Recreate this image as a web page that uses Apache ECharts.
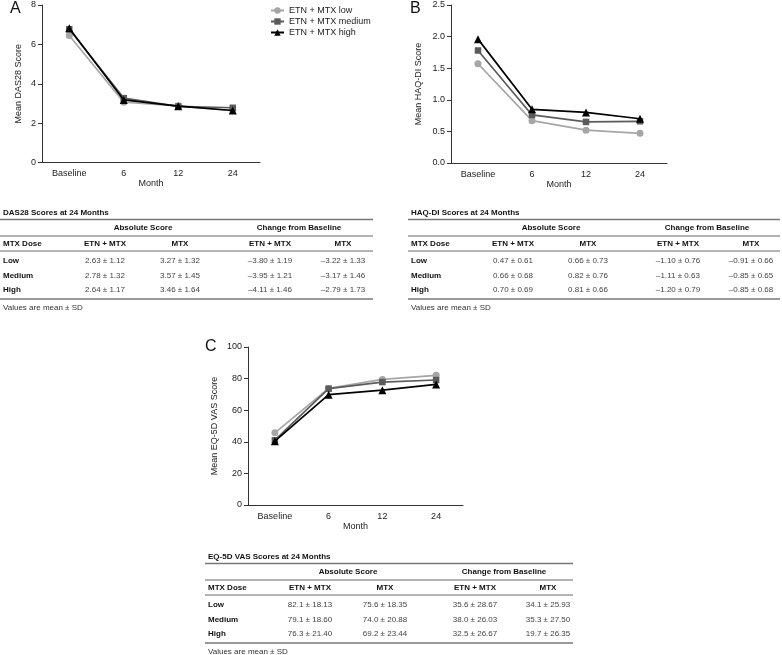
<!DOCTYPE html>
<html>
<head>
<meta charset="utf-8">
<script src="https://cdn.jsdelivr.net/npm/echarts@6/dist/echarts.min.js"></script>
<style>
html,body{margin:0;padding:0;background:#fff;}
#chart{width:782px;height:655px;}
</style>
</head>
<body>
<div id="chart"></div>
<script>
// ---- Data ----
const months = ['Baseline', '6', '12', '24'];
const seriesNames = ['ETN + MTX low', 'ETN + MTX medium', 'ETN + MTX high'];

const das28Low = [6.45, 3.06, 2.88, 2.63];
const das28Medium = [6.77, 3.27, 2.85, 2.78];
const das28High = [6.82, 3.18, 2.86, 2.64];

const haqLow = [1.57, 0.67, 0.52, 0.47];
const haqMedium = [1.78, 0.76, 0.65, 0.66];
const haqHigh = [1.96, 0.85, 0.80, 0.70];

const eqLow = [45.7, 73.8, 79.5, 82.1];
const eqMedium = [41.0, 73.6, 77.8, 79.1];
const eqHigh = [40.4, 69.8, 72.7, 76.3];

const tableGroupHeaders = ['Absolute Score', 'Change from Baseline'];
const tableColHeaders = ['MTX Dose', 'ETN + MTX', 'MTX', 'ETN + MTX', 'MTX'];
const tableFootnote = 'Values are mean ± SD';

const das28Title = 'DAS28 Scores at 24 Months';
const das28Rows = [
  ['Low', '2.63 ± 1.12', '3.27 ± 1.32', '–3.80 ± 1.19', '–3.22 ± 1.33'],
  ['Medium', '2.78 ± 1.32', '3.57 ± 1.45', '–3.95 ± 1.21', '–3.17 ± 1.46'],
  ['High', '2.64 ± 1.17', '3.46 ± 1.64', '–4.11 ± 1.46', '–2.79 ± 1.73']
];
const haqTitle = 'HAQ-DI Scores at 24 Months';
const haqRows = [
  ['Low', '0.47 ± 0.61', '0.66 ± 0.73', '–1.10 ± 0.76', '–0.91 ± 0.66'],
  ['Medium', '0.66 ± 0.68', '0.82 ± 0.76', '–1.11 ± 0.63', '–0.85 ± 0.65'],
  ['High', '0.70 ± 0.69', '0.81 ± 0.66', '–1.20 ± 0.79', '–0.85 ± 0.68']
];
const eqTitle = 'EQ-5D VAS Scores at 24 Months';
const eqRows = [
  ['Low', '82.1 ± 18.13', '75.6 ± 18.35', '35.6 ± 28.67', '34.1 ± 25.93'],
  ['Medium', '79.1 ± 18.60', '74.0 ± 20.88', '38.0 ± 26.03', '35.3 ± 27.50'],
  ['High', '76.3 ± 21.40', '69.2 ± 23.44', '32.5 ± 26.67', '19.7 ± 26.35']
];

// ---- Styles ----
const FONT = 'Liberation Sans, Arial, Helvetica, sans-serif';
const colors = ['#a6a6a6', '#5b5b5b', '#000000'];
const symbols = ['circle', 'rect', 'triangle'];
const symbolSizes = [7, 6.5, 8];
const axisColor = '#333';

function xAxisFor(gridIndex) {
  return {
    type: 'category', gridIndex, data: months, name: 'Month', nameLocation: 'middle', nameGap: 17,
    nameTextStyle: { fontFamily: FONT, fontSize: 9, color: '#222' },
    axisLine: { lineStyle: { color: axisColor, width: 1 } },
    axisTick: { alignWithLabel: true, length: 3, lineStyle: { color: axisColor } },
    axisLabel: { fontFamily: FONT, fontSize: 9, color: '#222', margin: 7 },
    splitLine: { show: false }
  };
}
function yAxisFor(gridIndex, name, min, max, interval, nameGap, digits) {
  return {
    type: 'value', gridIndex, min, max, interval, name, nameLocation: 'middle', nameRotate: 90, nameGap,
    nameTextStyle: { fontFamily: FONT, fontSize: 9, color: '#222' },
    axisLine: { show: true, lineStyle: { color: axisColor, width: 1 } },
    axisTick: { show: true, length: 4, lineStyle: { color: axisColor } },
    axisLabel: { fontFamily: FONT, fontSize: 9, color: '#222', margin: 6,
      formatter: v => v.toFixed(digits) },
    splitLine: { show: false }
  };
}
function seriesFor(idx, data, k) {
  return {
    type: 'line', name: seriesNames[k], xAxisIndex: idx, yAxisIndex: idx, data,
    symbol: symbols[k], symbolSize: symbolSizes[k], showAllSymbol: true,
    itemStyle: { color: colors[k] }, lineStyle: { color: colors[k], width: 1.7 },
    z: 2 + k, animation: false
  };
}

// ---- Table graphics ----
function tableGraphics(left, right, titleY, title, rows) {
  const g = [];
  const txt = (x, y, text, opts) => g.push({
    type: 'text', x, y, silent: true,
    style: Object.assign({ text, fontFamily: FONT, fontSize: 8, fill: '#333',
      align: 'left', verticalAlign: 'middle' }, opts || {})
  });
  const line = (y, w, c) => g.push({
    type: 'line', silent: true, shape: { x1: left, y1: y, x2: right, y2: y },
    style: { stroke: c, lineWidth: w }
  });
  const cols = [3, 105, 180, 270, 343];
  const groupCenters = [143, 299];
  txt(left + 3, titleY, title, { fontWeight: 'bold', fill: '#111' });
  line(titleY + 6.5, 1.5, '#777');
  txt(left + groupCenters[0], titleY + 15, tableGroupHeaders[0], { fontWeight: 'bold', fill: '#111', align: 'center' });
  txt(left + groupCenters[1], titleY + 15, tableGroupHeaders[1], { fontWeight: 'bold', fill: '#111', align: 'center' });
  line(titleY + 23, 1, '#666');
  tableColHeaders.forEach((h, i) => txt(left + cols[i], titleY + 30.5, h,
    { fontWeight: 'bold', fill: '#111', align: i === 0 ? 'left' : 'center' }));
  line(titleY + 38, 1, '#666');
  rows.forEach((r, ri) => {
    const y = titleY + 48 + ri * 14.5;
    r.forEach((c, ci) => txt(left + cols[ci], y, c,
      ci === 0 ? { fontWeight: 'bold', fill: '#111' } : { align: 'center', fill: '#444' }));
  });
  line(titleY + 86, 2, '#999');
  txt(left + 3, titleY + 95, tableFootnote, { fill: '#333' });
  return g;
}
function panelLabel(x, y, t) {
  return { type: 'text', x, y, silent: true,
    style: { text: t, fontFamily: FONT, fontSize: 16, fill: '#111', align: 'left', verticalAlign: 'top' } };
}

const option = {
  animation: false,
  backgroundColor: '#fff',
  grid: [
    { left: 42, top: 5, width: 218, height: 157.5 },
    { left: 451, top: 5, width: 216, height: 158 },
    { left: 248, top: 347, width: 215, height: 158 }
  ],
  xAxis: [xAxisFor(0), xAxisFor(1), xAxisFor(2)],
  yAxis: [
    yAxisFor(0, 'Mean DAS28 Score', 0, 8, 2, 19, 0),
    yAxisFor(1, 'Mean HAQ-DI Score', 0, 2.5, 0.5, 28, 1),
    yAxisFor(2, 'Mean EQ-5D VAS Score', 0, 100, 20, 29, 0)
  ],
  legend: {
    data: seriesNames, orient: 'vertical', left: 270, top: 6, padding: 0, itemGap: 2,
    itemWidth: 13, itemHeight: 8,
    textStyle: { fontFamily: FONT, fontSize: 9, color: '#222' }
  },
  series: [
    seriesFor(0, das28Low, 0), seriesFor(0, das28Medium, 1), seriesFor(0, das28High, 2),
    seriesFor(1, haqLow, 0), seriesFor(1, haqMedium, 1), seriesFor(1, haqHigh, 2),
    seriesFor(2, eqLow, 0), seriesFor(2, eqMedium, 1), seriesFor(2, eqHigh, 2)
  ],
  graphic: [
    panelLabel(10, 1, 'A'), panelLabel(410, 1, 'B'), panelLabel(205, 339, 'C')
  ].concat(
    tableGraphics(0, 373, 213, das28Title, das28Rows),
    tableGraphics(408, 780, 213, haqTitle, haqRows),
    tableGraphics(205, 573, 557, eqTitle, eqRows)
  )
};

const chart = echarts.init(document.getElementById('chart'), null, { renderer: 'canvas' });
chart.setOption(option);
</script>
</body>
</html>
